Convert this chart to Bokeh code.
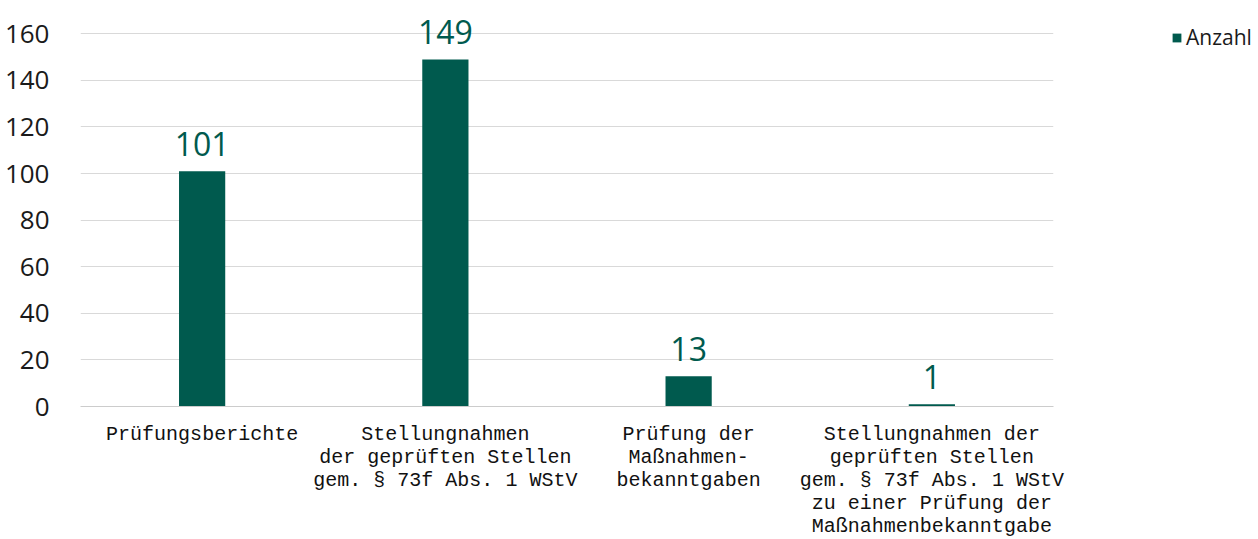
from bokeh.plotting import figure
from bokeh.models import ColumnDataSource, Range1d, Legend, LegendItem, FixedTicker
from bokeh.embed import file_html
from bokeh.resources import INLINE
from bokeh.core.properties import value

categories = [
    "Prüfungsberichte",
    "Stellungnahmen\nder geprüften Stellen\ngem. § 73f Abs. 1 WStV",
    "Prüfung der\nMaßnahmen-\nbekanntgaben",
    "Stellungnahmen der\ngeprüften Stellen\ngem. § 73f Abs. 1 WStV\nzu einer Prüfung der\nMaßnahmenbekanntgabe",
]
counts = [101, 149, 13, 1]
count_labels = [str(v) for v in counts]
series_name = "Anzahl"
y_ticks = [0, 20, 40, 60, 80, 100, 120, 140, 160]

BAR = "#005a4e"

src = ColumnDataSource(dict(cat=categories, val=counts, lab=count_labels))

p = figure(x_range=categories, y_range=Range1d(0, 170),
           width=1250, height=539, frame_width=973, frame_height=396,
           min_border_left=80, min_border_top=10, min_border_right=0,
           output_backend="svg", toolbar_location=None)
p.outline_line_color = None
p.background_fill_color = "white"

r = p.vbar(x="cat", top="val", width=0.19, source=src, color=BAR, line_color=None)
p.text(x="cat", y="val", text="lab", source=src, text_align="center",
       text_baseline="bottom", y_offset=-15, text_color=BAR,
       text_font=value("Open Sans"), text_font_size="32px")

p.yaxis.ticker = FixedTicker(ticks=y_ticks)
p.yaxis.axis_line_color = None
p.yaxis.major_tick_line_color = None
p.yaxis.minor_tick_line_color = None
p.yaxis.major_label_text_font = "Open Sans"
p.yaxis.major_label_text_font_size = "26px"
p.yaxis.major_label_text_color = "#1a1a1a"
p.yaxis.major_label_standoff = 25

p.xaxis.axis_line_color = "#cccccc"
p.xaxis.major_tick_line_color = None
p.xaxis.minor_tick_line_color = None
p.xaxis.major_label_text_font = "Liberation Mono"
p.xaxis.major_label_text_font_size = "20px"
p.xaxis.major_label_text_color = "#111111"
p.xaxis.major_label_standoff = 10
p.xaxis.major_label_text_line_height = 1.0

p.xgrid.grid_line_color = None
p.ygrid.ticker = FixedTicker(ticks=y_ticks[1:])
p.ygrid.grid_line_color = "#d9d9d9"

legend = Legend(items=[LegendItem(label=series_name, renderers=[r])],
                orientation="vertical",
                label_text_font="Open Sans", label_text_font_size="21px",
                label_text_color="#1a1a1a",
                glyph_width=11, glyph_height=11, label_standoff=4,
                padding=0, margin=0, spacing=0, border_line_color=None,
                background_fill_alpha=0)
p.add_layout(legend, "right")
legend.label_height = 11
legend.location = (118, 355)

open("out.html", "w").write(file_html(p, INLINE))
